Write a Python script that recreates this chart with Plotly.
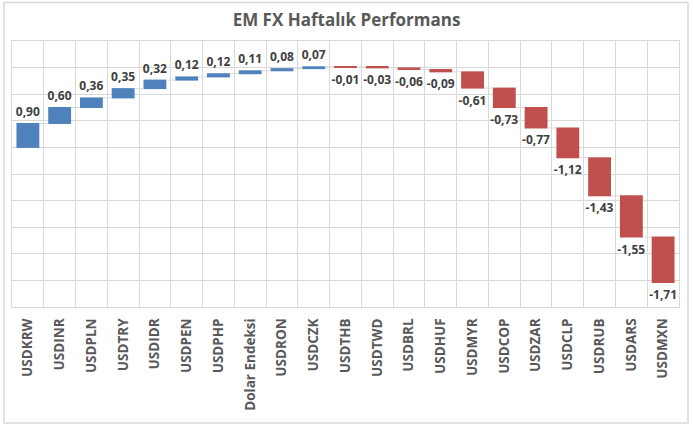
import plotly.graph_objects as go

categories = ["USDKRW", "USDINR", "USDPLN", "USDTRY", "USDIDR", "USDPEN", "USDPHP",
              "Dolar Endeksi", "USDRON", "USDCZK", "USDTHB", "USDTWD", "USDBRL", "USDHUF",
              "USDMYR", "USDCOP", "USDZAR", "USDCLP", "USDRUB", "USDARS", "USDMXN"]
values = [0.90, 0.60, 0.36, 0.35, 0.32, 0.12, 0.12, 0.11, 0.08, 0.07,
          -0.01, -0.03, -0.06, -0.09, -0.61, -0.73, -0.77, -1.12, -1.43, -1.55, -1.71]
labels = [f"{v:.2f}".replace(".", ",") for v in values]

grid = "#d9d9d9"
fig = go.Figure(go.Waterfall(
    x=categories, y=values, measure=["relative"] * len(values),
    text=labels, textposition="outside", cliponaxis=False, constraintext="none",
    textfont=dict(family="Open Sans", size=12, color="#404040", weight="bold"),
    increasing=dict(marker=dict(color="#4F81BD")),
    decreasing=dict(marker=dict(color="#C0504D")),
    connector=dict(line=dict(color=grid, width=1)),
    width=0.72,
))

fig.update_layout(
    width=693, height=427,
    margin=dict(l=12, r=14, t=41, b=120),
    paper_bgcolor="white", plot_bgcolor="white",
    showlegend=False,
    title=dict(text="EM FX Haftalık Performans", x=0.5, xanchor="center", y=0.953, yanchor="middle",
               font=dict(family="Open Sans", size=17, color="#595959", weight="bold")),
    xaxis=dict(type="category", tickson="boundaries", showgrid=True, gridcolor=grid, gridwidth=1,
               ticks="", tickangle=-90, ticklabelstandoff=5,
               tickfont=dict(family="Open Sans", size=13.5, color="#595959", weight="bold"),
               showline=True, mirror=True, linecolor=grid, linewidth=1),
    yaxis=dict(range=[-6, 4], dtick=1, showticklabels=False, showgrid=True, gridcolor=grid,
               zeroline=False, showline=True, mirror=True, linecolor=grid, linewidth=1),
    shapes=[dict(type="rect", xref="paper", yref="paper",
                 x0=-8/667, x1=1+9/667, y0=-116/266, y1=1+38.5/266,
                 line=dict(color=grid, width=1.5), layer="below")],
)

fig.write_html("out.html", config={"displayModeBar": False},
               post_script="document.body.style.margin='0';document.body.style.overflow='hidden';")
